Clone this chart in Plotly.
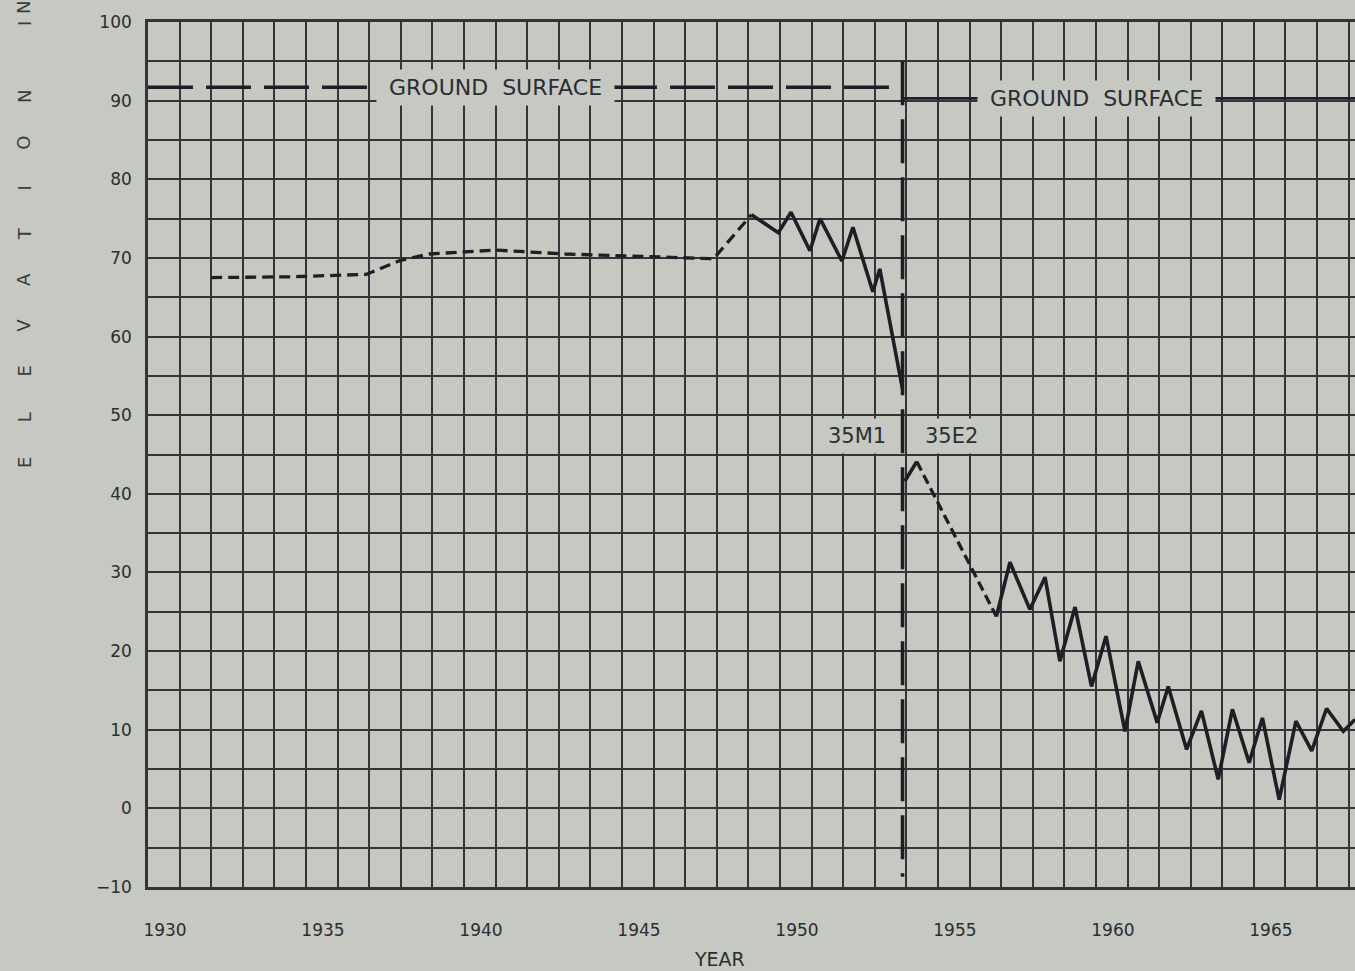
import plotly.graph_objects as go

# ---------------- data ----------------
years_axis = list(range(1930, 1969))
x_labels = [str(y) if y % 5 == 0 else "" for y in years_axis]
elev_ticks = list(range(-10, 101, 5))
y_labels = [("−10" if v == -10 else str(v)) if v % 10 == 0 else "" for v in elev_ticks]

# well 35M1, estimated (dashed) part
m1_est_year = [1932.0, 1934.5, 1936.9, 1938.0, 1938.9, 1941.0, 1943.2, 1945.4, 1947.9, 1949.1]
m1_est_elev = [67.5, 67.6, 67.9, 69.7, 70.5, 71.0, 70.5, 70.2, 69.9, 75.5]
# well 35M1, measured part
m1_year = [1949.1, 1949.95, 1950.35, 1950.95, 1951.27, 1951.96, 1952.31, 1952.94, 1953.16, 1953.88]
m1_elev = [75.5, 73.2, 75.8, 70.9, 75.0, 69.6, 73.9, 65.7, 68.6, 53.3]

# well 35E2
e2_first_year = [1953.95, 1954.33]
e2_first_elev = [41.6, 44.1]
e2_est_year = [1954.33, 1956.85]
e2_est_elev = [44.1, 24.4]
e2_year = [1956.85, 1957.28, 1957.91, 1958.39, 1958.86, 1959.34, 1959.86, 1960.32, 1960.92,
           1961.34, 1961.94, 1962.29, 1962.87, 1963.34, 1963.87, 1964.32, 1964.85, 1965.27,
           1965.80, 1966.33, 1966.83, 1967.30, 1967.83, 1968.2]
e2_elev = [24.4, 31.3, 25.3, 29.4, 18.7, 25.6, 15.5, 21.9, 9.8,
           18.7, 10.9, 15.5, 7.5, 12.4, 3.7, 12.6, 5.8, 11.5,
           1.1, 11.1, 7.3, 12.7, 9.8, 11.3]

ground_m1_year = [1930.0, 1953.88]
ground_m1_elev = [91.7, 91.7]
ground_e2_year = [1953.88, 1968.2]
ground_e2_elev = [90.3, 90.3]
well_change_year = [1953.88, 1953.88]
well_change_elev = [95.0, -8.7]

title_letters = list("ELEVATION") + ["I", "N"]

# ---------------- style ----------------
BG = "#c5c9c1"
GRID = "#33353a"
INK = "#1e1f24"
TXT = "#2b2d31"
FONT = "DejaVu Sans"

fig = go.Figure()

def add_line(x, y, dash="solid", width=3.6):
    fig.add_trace(go.Scatter(x=x, y=y, mode="lines",
                             line=dict(color=INK, width=width, dash=dash),
                             hoverinfo="skip", cliponaxis=True))

add_line(ground_m1_year, ground_m1_elev, dash="45px,13px", width=3.4)
add_line(ground_e2_year, ground_e2_elev, width=2.8)
add_line(well_change_year, well_change_elev, dash="44px,14px", width=3.6)
add_line(m1_est_year, m1_est_elev, dash="11px,6px", width=3.3)
add_line(m1_year, m1_elev, width=3.6)
add_line(e2_first_year, e2_first_elev, width=3.6)
add_line(e2_est_year, e2_est_elev, dash="10px,5px", width=3.3)
add_line(e2_year, e2_elev, width=3.6)

ann = []
def label(text, x, y, xanchor="center", size=22):
    ann.append(dict(text=text, x=x, y=y, xref="x", yref="y", showarrow=False,
                    xanchor=xanchor, yanchor="middle", bgcolor=BG, borderpad=5,
                    font=dict(family=FONT, size=size, color=TXT)))

label("\u00a0GROUND\u00a0\u00a0SURFACE\u00a0", 1941.0, 91.7)
label("\u00a0GROUND\u00a0\u00a0SURFACE\u00a0", 1960.03, 90.3)
label("35M1", 1953.55, 47.3, xanchor="right", size=21)
label("35E2", 1954.4, 47.3, xanchor="left", size=21)

# axis title "YEAR"
ann.append(dict(text="YEAR", x=(719 - 148) / 1207, y=-0.083, xref="paper", yref="paper",
                showarrow=False, xanchor="center", yanchor="middle",
                font=dict(family=FONT, size=19, color=TXT)))

# vertical y-axis title, letter spaced
title_px = [463 - 45.75 * i for i in range(9)] + [24, 8]
for ch, py in zip(title_letters, title_px):
    ann.append(dict(text=ch, x=(24 - 148) / 1207, y=(887 - py) / 865, xref="paper", yref="paper",
                    showarrow=False, xanchor="center", yanchor="middle", textangle=-90,
                    font=dict(family=FONT, size=18, color="#3a3c40")))

fig.update_layout(
    width=1355, height=971,
    margin=dict(l=148, r=0, t=22, b=84),
    paper_bgcolor=BG, plot_bgcolor=BG,
    showlegend=False,
    font=dict(family=FONT, color=TXT),
    annotations=ann,
)
fig.update_xaxes(range=[1930, 1968.2], tickmode="array", tickvals=years_axis, ticktext=x_labels,
                 showgrid=True, gridcolor=GRID, gridwidth=1.9, zeroline=False,
                 showline=True, linecolor=GRID, linewidth=2.6, mirror=True, ticks="",
                 ticklabelshift=17, ticklabelstandoff=26, tickfont=dict(size=17, color=TXT))
fig.update_yaxes(range=[-10, 100], tickmode="array", tickvals=elev_ticks, ticktext=y_labels,
                 showgrid=True, gridcolor=GRID, gridwidth=1.9, zeroline=False,
                 showline=True, linecolor=GRID, linewidth=2.6, mirror=False, ticks="",
                 ticklabelstandoff=10, tickfont=dict(size=17, color=TXT))

fig.write_html("out.html")
